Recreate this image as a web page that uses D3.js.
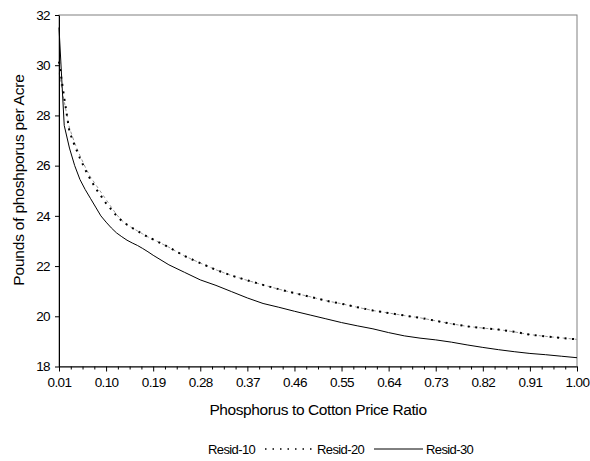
<!DOCTYPE html>
<html>
<head>
<meta charset="utf-8">
<script src="https://cdn.jsdelivr.net/npm/d3@7"></script>
<style>
  body { margin: 0; background: #fff; }
  text { font-family: "Liberation Sans", Arial, sans-serif; fill: #000; }
</style>
</head>
<body>
<svg id="chart" width="590" height="461"></svg>
<script>
// Price ratio on the x axis (finer where the curves bend)
var ratio = [0.01, 0.02, 0.03, 0.04, 0.05, 0.06, 0.07, 0.08, 0.09, 0.10,
    0.11, 0.12, 0.13, 0.14, 0.15, 0.16, 0.17, 0.18, 0.19,
    0.22, 0.25, 0.28, 0.31, 0.34, 0.37, 0.40, 0.43, 0.46, 0.49, 0.52, 0.55,
    0.58, 0.61, 0.64, 0.67, 0.70, 0.73, 0.76, 0.79, 0.82, 0.85, 0.88, 0.91,
    0.94, 0.97, 1.00];

// Pounds of phosphorus per acre
var resid10 = [29.7, 28.55, 27.5, 26.9, 26.4, 25.95, 25.55, 25.25, 24.95, 24.65,
    24.35, 24.05, 23.82, 23.65, 23.52, 23.4, 23.28, 23.16, 23.06,
    22.75, 22.4, 22.12, 21.85, 21.62, 21.43, 21.25, 21.08, 20.92, 20.78, 20.62, 20.5,
    20.36, 20.23, 20.13, 20.03, 19.94, 19.82, 19.7, 19.6, 19.53, 19.47, 19.38, 19.27,
    19.2, 19.14, 19.08];

var resid20 = [30.14, 28.7, 27.35, 26.8, 26.3, 25.85, 25.45, 25.1, 24.8, 24.5,
    24.25, 24.0, 23.8, 23.65, 23.52, 23.4, 23.28, 23.16, 23.06,
    22.75, 22.4, 22.12, 21.85, 21.62, 21.43, 21.25, 21.08, 20.92, 20.78, 20.62, 20.5,
    20.36, 20.23, 20.13, 20.03, 19.94, 19.82, 19.7, 19.6, 19.53, 19.47, 19.38, 19.27,
    19.2, 19.14, 19.08];

var resid30 = [31.5, 27.6, 26.7, 26.0, 25.45, 25.05, 24.7, 24.35, 24.0, 23.75,
    23.52, 23.32, 23.17, 23.03, 22.92, 22.82, 22.7, 22.57, 22.43,
    22.05, 21.75, 21.45, 21.23, 20.98, 20.73, 20.51, 20.36, 20.2, 20.05, 19.9, 19.75,
    19.62, 19.5, 19.35, 19.22, 19.13, 19.06, 18.97, 18.86, 18.76, 18.67, 18.59, 18.52,
    18.47, 18.41, 18.35];

var seriesNames = ["Resid-10", "Resid-20", "Resid-30"];
var xTickValues = d3.range(12).map(function (k) { return 0.01 + 0.09 * k; });
var yTickValues = [18, 20, 22, 24, 26, 28, 30, 32];

// line styles per series
var styles = [
    { stroke: "#9a9a9a", width: 1, dash: "3,3", keyOpacity: 0 },
    { stroke: "#000", width: 2, dash: "2,5.5", keyOpacity: 1 },
    { stroke: "#000", width: 1, dash: null, keyOpacity: 1 }
];

var svg = d3.select("#chart");
var plotL = 59, plotR = 577, plotT = 15, plotB = 366.5;

var x = d3.scaleLinear().domain([0.01, 1.00]).range([plotL, plotR]);
var y = d3.scaleLinear().domain([18, 32]).range([plotB, plotT]);

// frame (top and right in grey like the original)
svg.append("rect")
    .attr("x", plotL).attr("y", plotT)
    .attr("width", plotR - plotL).attr("height", plotB - plotT)
    .attr("fill", "none").attr("stroke", "#808080").attr("stroke-width", 1);

var series = [resid10, resid20, resid30];
var line = d3.line()
    .x(function (d, i) { return x(ratio[i]); })
    .y(function (d) { return y(d); });

series.forEach(function (vals, s) {
    svg.append("path")
        .datum(vals)
        .attr("d", line)
        .attr("fill", "none")
        .attr("stroke", styles[s].stroke)
        .attr("stroke-width", styles[s].width)
        .attr("stroke-dasharray", styles[s].dash);
});

// minor x ticks: three between every pair of labels
var minor = [];
for (var k = 0; k < xTickValues.length - 1; k++) {
    for (var m = 1; m < 4; m++) minor.push(xTickValues[k] + 0.09 * m / 4);
}
svg.append("g")
    .attr("transform", "translate(0," + plotB + ")")
    .call(d3.axisBottom(x).tickValues(minor).tickSize(3).tickSizeOuter(0).tickFormat(""))
    .call(function (g) { g.select(".domain").remove(); });

var xAxis = svg.append("g")
    .attr("transform", "translate(0," + plotB + ")")
    .call(d3.axisBottom(x).tickValues(xTickValues).tickSize(5).tickSizeOuter(0)
        .tickPadding(6).tickFormat(d3.format(".2f")));

var yAxis = svg.append("g")
    .attr("transform", "translate(" + plotL + ",0)")
    .call(d3.axisLeft(y).tickValues(yTickValues).tickSize(4).tickSizeOuter(0)
        .tickPadding(5).tickFormat(d3.format("d")));

[xAxis, yAxis].forEach(function (g) {
    g.selectAll("path, line").attr("stroke", "#000");
    g.selectAll("text").style("font-size", "13.5px").style("letter-spacing", "-0.6px")
        .style("font-family", "'Liberation Sans', Arial, sans-serif");
});

// axis titles
svg.append("text")
    .attr("x", (plotL + plotR) / 2).attr("y", 415)
    .attr("text-anchor", "middle")
    .style("font-size", "15.5px").style("letter-spacing", "-0.4px")
    .text("Phosphorus to Cotton Price Ratio");

svg.append("text")
    .attr("transform", "translate(24,180) rotate(-90)")
    .attr("text-anchor", "middle")
    .style("font-size", "15.5px").style("letter-spacing", "-0.2px")
    .text("Pounds of phoshporus per Acre");

// legend
var legend = svg.append("g").attr("transform", "translate(156,449)");
seriesNames.forEach(function (name, s) {
    var g = legend.append("g").attr("transform", "translate(" + (s * 109) + ",0)");
    g.append("line")
        .attr("x1", 0).attr("x2", 49).attr("y1", 0).attr("y2", 0)
        .attr("stroke", styles[s].stroke)
        .attr("stroke-width", s === 1 ? 1.5 : styles[s].width)
        .attr("stroke-dasharray", s === 1 ? "1.5,6" : styles[s].dash)
        .attr("opacity", styles[s].keyOpacity);
    g.append("text")
        .attr("x", 52).attr("y", 4.5)
        .style("font-size", "13px").style("letter-spacing", "-0.6px")
        .text(name);
});
</script>
</body>
</html>
